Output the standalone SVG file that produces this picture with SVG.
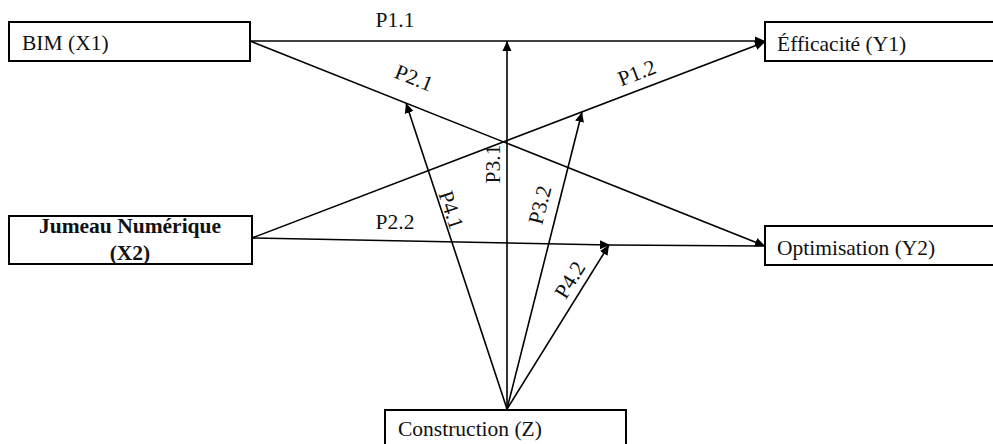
<svg xmlns="http://www.w3.org/2000/svg" width="993" height="444" viewBox="0 0 993 444">
<defs>
<marker id="ah" viewBox="0 0 10 10" refX="10" refY="5" markerWidth="10" markerHeight="10" markerUnits="userSpaceOnUse" orient="auto">
<path d="M0,0.5 L10,5 L0,9.5 Z" fill="#000"/>
</marker>
<style>
.box{fill:#fff;stroke:#000;stroke-width:2}
.t{font-family:"Liberation Serif","Times New Roman",serif;font-size:21.5px;fill:#111}
.b{font-weight:bold}
.ln{stroke:#000;stroke-width:1.6;fill:none}
.ar{marker-end:url(#ah)}
</style>
</defs>
<rect width="993" height="444" fill="#fff"/>
<g id="connectors">
<line class="ln ar" x1="250" y1="41" x2="765" y2="41"/>
<line class="ln ar" x1="250" y1="41" x2="765" y2="246"/>
<line class="ln ar" x1="252" y1="238" x2="765" y2="42"/>
<line class="ln ar" x1="252" y1="238" x2="610" y2="245"/>
<line class="ln" x1="610" y1="245" x2="765" y2="246"/>
<line class="ln ar" x1="507" y1="409" x2="507" y2="41"/>
<line class="ln ar" x1="507" y1="409" x2="406" y2="103"/>
<line class="ln ar" x1="507" y1="409" x2="582" y2="112"/>
<line class="ln ar" x1="507" y1="409" x2="609" y2="245"/>
<text class="t" x="395" y="27" text-anchor="middle">P1.1</text>
<text class="t" x="395" y="229" text-anchor="middle">P2.2</text>
<text class="t" text-anchor="middle" transform="translate(414,78) rotate(21.7)" y="7">P2.1</text>
<text class="t" text-anchor="middle" transform="translate(637,73) rotate(-20.9)" y="7">P1.2</text>
<text class="t" text-anchor="middle" transform="translate(493,164) rotate(-90)" y="7">P3.1</text>
<text class="t" text-anchor="middle" transform="translate(451,210) rotate(71.7)" y="7">P4.1</text>
<text class="t" text-anchor="middle" transform="translate(540,205) rotate(-75.8)" y="7">P3.2</text>
<text class="t" text-anchor="middle" transform="translate(570,280) rotate(-58.2)" y="7">P4.2</text>
</g>
<g id="bim">
<rect class="box" x="9" y="22" width="241" height="39"/>
<text class="t" x="22" y="50">BIM (X1)</text>
</g>
<g id="jumeau">
<rect class="box" x="9" y="216" width="243" height="48"/>
<text class="t b" x="130" y="233" text-anchor="middle">Jumeau Numérique</text>
<text class="t b" x="130" y="260" text-anchor="middle">(X2)</text>
</g>
<g id="efficacite">
<rect class="box" x="765" y="22" width="240" height="39"/>
<text class="t" x="777" y="51">Éfficacité (Y1)</text>
</g>
<g id="optimisation">
<rect class="box" x="765" y="226" width="240" height="39"/>
<text class="t" x="777" y="255">Optimisation (Y2)</text>
</g>
<g id="construction">
<rect class="box" x="385" y="410" width="241" height="50"/>
<text class="t" x="398" y="436">Construction (Z)</text>
</g>
</svg>
